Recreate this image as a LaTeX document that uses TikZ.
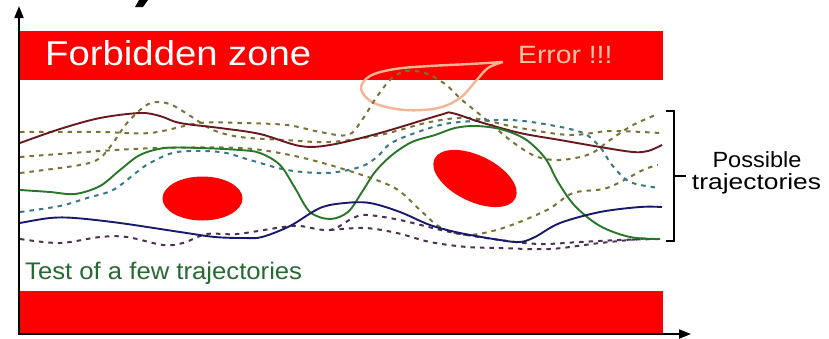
\documentclass[tikz,border=0pt]{standalone}
\usepackage{fontspec}
\newfontfamily\arial{Liberation Sans}
\usetikzlibrary{arrows.meta}
\definecolor{zonered}{RGB}{255,0,0}
\definecolor{peach}{RGB}{242,182,150}
\definecolor{errtxt}{RGB}{248,196,168}
\definecolor{maroon}{RGB}{105,25,30}
\definecolor{navy}{RGB}{25,25,105}
\definecolor{trajgreen}{RGB}{40,118,40}
\definecolor{textgreen}{RGB}{38,105,50}
\definecolor{olive}{RGB}{120,115,55}
\definecolor{teal}{RGB}{55,120,135}
\definecolor{purp}{RGB}{75,50,85}
\tikzset{
  axisline/.style={line width=1.8pt,-{Triangle[length=12pt,width=9pt]}},
  zone/.style={fill=zonered,draw=none},
  obstacle/.style={fill=zonered,draw=none},
  solidtraj/.style={line width=1.9pt,smooth,tension=0.55},
  dashtraj/.style={line width=2pt,dash pattern=on 4.5pt off 5pt,smooth,tension=0.55},
  lasso/.style={draw=peach,line width=2.4pt},
  brack/.style={line width=2.6pt,line cap=butt},
}
\begin{document}
\begin{tikzpicture}[x=1pt,y=-1pt]
\useasboundingbox (0,0) rectangle (829,338);
% forbidden zones
\fill[zone] (20,31) rectangle (663,80);
\fill[zone] (20,291) rectangle (663,333);
% obstacles
\fill[obstacle] (202.5,198.5) ellipse [x radius=40, y radius=22];
\fill[obstacle, rotate around={-26:(475,178.5)}] (475,178.5) ellipse [x radius=45, y radius=23];
% fragment of a cut-off letter at the top
\fill (139,0) -- (148,0) -- (143,7) -- (135,7) -- cycle;
% axes
\coordinate (origin) at (19,334);
\coordinate (ytip) at (19,6);
\coordinate (xorig) at (18,334);
\coordinate (xtip) at (691,334);
\draw[axisline] (origin) -- (ytip);
\draw[axisline] (xorig) -- (xtip);
% texts
\node[anchor=base west, inner sep=0, text=white, font=\arial\fontsize{34.5}{40}\selectfont, xscale=1.11] (fz) at (45,65) {Forbidden zone};
\node[anchor=base west, inner sep=0, text=errtxt, font=\arial\fontsize{25}{30}\selectfont, xscale=1.13] (err) at (518,63) {Error !!!};
\node[anchor=base west, inner sep=0, text=textgreen, font=\arial\fontsize{24}{28}\selectfont, xscale=1.07] (test) at (25,279) {Test of a few trajectories};
\node[anchor=base, inner sep=0, font=\arial\fontsize{22}{22}\selectfont] (poss) at (757,167) {\scalebox{1.07}[1]{Possible}};
\node[anchor=base, inner sep=0, font=\arial\fontsize{22}{22}\selectfont] (traj) at (756.5,189) {\scalebox{1.2}[1]{trajectories}};
% lasso around the error
\draw[lasso] plot[smooth, tension=0.6] coordinates {(503,62) (470,64) (430,66) (395,69) (370,76) (361,89) (374,103) (405,110) (438,108) (460,98) (475,82) (488,68) (503,62)};
% dashed trajectories
\draw[dashtraj,olive] plot coordinates {(20,132) (100,132) (150,133) (200,123) (240,123) (287,125) (320,132) (348,135) (362,120) (376,98) (391,79) (406,71) (425,73) (445,84) (462,100) (483,117) (510,140) (535,156) (560,160) (590,154) (610,140) (633,125) (658,114)};
\draw[dashtraj,olive] plot coordinates {(20,157) (100,151) (160,148) (240,148) (290,155) (340,168) (393,187) (420,210) (440,227) (467,235) (503,228) (547,210) (573,193) (607,188) (643,170) (658,165)};
\draw[dashtraj,olive] plot coordinates {(20,173) (80,165) (100,158) (113,143) (127,123) (145,106) (157,102) (172,105) (192,117) (213,130) (240,137) (285,140) (330,142) (380,135) (430,122) (470,118) (520,128) (570,135) (610,131) (660,133)};
\draw[dashtraj,teal] plot coordinates {(20,212) (60,206) (87,198) (113,190) (137,172) (150,163) (177,152) (220,152) (250,160) (287,170) (327,173) (360,167) (377,157) (393,142) (433,127) (460,122) (510,120) (550,125) (583,133) (600,147) (612,165) (630,182) (660,188)};
\draw[dashtraj,purp] plot coordinates {(20,239) (60,243) (100,237) (127,237) (163,245) (183,243) (207,234) (237,234) (283,227) (300,226) (330,230) (353,218) (367,215) (400,220) (450,232) (500,240) (540,244) (580,242) (620,240) (658,239)};
\draw[dashtraj,purp] plot coordinates {(330,230) (365,228) (397,233) (430,242) (467,247) (500,248) (550,249) (600,243) (650,238)};
% solid trajectories
\draw[solidtraj,maroon] plot coordinates {(20,143) (60,129) (100,118) (140,113) (160,116) (180,123) (220,128) (260,134) (300,146) (330,145) (380,133) (440,115) (452,113) (480,122) (520,133) (560,140) (600,147) (633,152) (648,151) (662,145)};
\draw[solidtraj,trajgreen] plot coordinates {(20,190) (50,192) (75,194) (100,186) (120,170) (140,155) (165,148) (200,148) (240,150) (260,153) (280,165) (295,188) (310,212) (330,219) (348,212) (362,192) (375,172) (392,155) (412,142) (435,135) (455,128) (475,126) (500,129) (525,139) (545,158) (558,182) (575,206) (600,226) (630,237) (660,239)};
\draw[solidtraj,navy] plot coordinates {(20,223) (50,218) (75,218) (120,223) (180,232) (215,237) (245,238) (262,237) (290,226) (320,208) (345,203) (370,203) (400,212) (430,225) (460,233) (500,240) (520,242) (535,237) (560,223) (600,212) (640,207) (662,207)};
% bracket
\coordinate (bt) at (666,111);
\coordinate (btr) at (674,111);
\coordinate (bbr) at (674,241);
\coordinate (bb) at (666,241);
\coordinate (bm) at (674,176);
\coordinate (bmr) at (686,176);
\draw[brack] (bt) -- (btr) -- (bbr) -- (bb);
\draw[brack] (bm) -- (bmr);
\end{tikzpicture}
\end{document}
